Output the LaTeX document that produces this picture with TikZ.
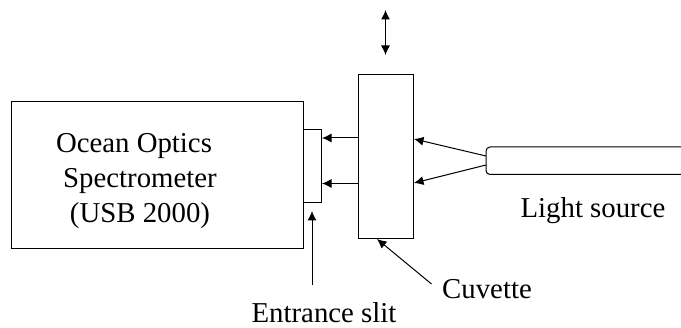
\documentclass[tikz,border=0pt]{standalone}
\usepackage{fontspec}
\setmainfont{Liberation Serif}
\usetikzlibrary{arrows.meta}
\usetikzlibrary{positioning}
\tikzset{> = {Latex[length=9.5pt, width=9pt]}, x=1pt, y=-1pt,
  part/.style={draw, line width=1pt, inner sep=0pt},
  caption/.style={font=\fontsize{28.8}{35}\selectfont, anchor=base, inner sep=0pt},
  ray/.style={->, line width=1pt}}

\begin{document}
\begin{tikzpicture}
  \useasboundingbox (0,0) rectangle (681,328);
  % nodes
  \node [part, minimum width=292pt, minimum height=147pt, anchor=north west] (spectrometer) at (11,101) {};
  \node [part, minimum width=18pt, minimum height=73pt, anchor=north west] (slit) at (303,129) {};
  \node [part, minimum width=55pt, minimum height=164pt, anchor=north west] (cuvette) at (358,74) {};
  \node [caption] (ocean) at (134,153) {Ocean Optics};
  \node [caption] (model) at (140,188) {Spectrometer};
  \node [caption] (usb) at (140,223) {(USB 2000)};
  \node [caption] (sourcelabel) at (593,218) {Light source};
  \node [caption] (cuvettelabel) at (487,299) {Cuvette};
  \node [caption] (slitlabel) at (324,323) {Entrance slit};
  % light source, open on the right
  \draw [line width=1pt, rounded corners=4pt] (681,147) -- (486,147) -- (486,174.5) -- (681,174.5);
  \coordinate (sourceup) at (486,156);
  \coordinate (sourcedown) at (486,165);
  \coordinate (moveup) at (385.5,10);
  \coordinate (movedown) at (385.5,55);
  \coordinate (slitpoint) at (312,211);
  \coordinate (slitfoot) at (312,285);
  \coordinate (cuvettepoint) at (377,239);
  \coordinate (cuvettefoot) at (431.5,284);
  % arrows
  \draw [ray, <->] (moveup) -- (movedown);
  \draw [ray] (sourceup) -- (cuvette.east |- 0,139);
  \draw [ray] (sourcedown) -- (cuvette.east |- 0,183);
  \foreach \y in {138, 183.5} {
    \draw [ray] (cuvette.west |- 0,\y) -- (slit.east |- 0,\y);
  }
  \draw [ray] (slitfoot) -- (slitpoint);
  \draw [ray] (cuvettefoot) -- (cuvettepoint);
\end{tikzpicture}
\end{document}
